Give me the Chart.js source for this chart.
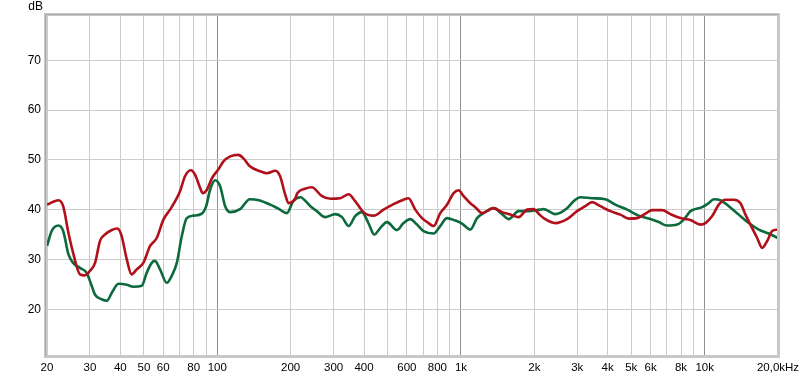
<!DOCTYPE html>
<html>
<head>
<meta charset="utf-8">
<script src="https://cdn.jsdelivr.net/npm/chart.js"></script>
<style>
  html, body { margin: 0; padding: 0; background: #fff; }
  #wrap { width: 800px; height: 378px; }
</style>
</head>
<body>
<div id="wrap"><canvas id="fr" width="800" height="378"></canvas></div>
<script>
// ── Data (Hz / dB) ────────────────────────────────────────
const redFreq = [20, 22.3, 23.3, 24.5, 25.6, 27.3, 28.6, 30, 31.5, 33, 34.6, 36.9, 38.9, 40.5, 42.5, 44.5,
  46.7, 49.7, 53, 56.4, 60.1, 64, 68.2, 70.3, 73.7, 77.8, 81.1, 84.5, 87.2, 90.6, 95, 101, 106, 113, 122,
  128, 136, 150, 160, 173, 181, 190, 196, 209, 213, 229, 244, 269, 291, 319, 346, 368, 398, 438, 481, 529,
  581, 609, 649, 692, 736, 772, 822, 876, 933, 978, 1025, 1092, 1145, 1220, 1361, 1474, 1594, 1724, 1867,
  1987, 2102, 2184, 2440, 2725, 2995, 3238, 3452, 3733, 4103, 4511, 4877, 5282, 5713, 6086, 6692, 7236,
  7955, 8745, 9612, 10078, 10738, 11430, 12176, 13168, 14030, 14708, 15668, 16428, 17224, 18056, 18932, 20000];
const redDb = [41.0, 41.9, 40.7, 35.3, 31.3, 27.0, 26.8, 27.7, 29.3, 33.7, 35.0, 35.9, 36.2, 34.7, 30.0, 27.0,
  28.0, 29.3, 32.7, 34.3, 38.0, 40.0, 42.3, 43.7, 46.7, 47.9, 47.0, 44.7, 43.3, 44.0, 46.3, 48.1, 49.7, 50.7, 51.0,
  50.3, 48.7, 47.7, 47.3, 47.8, 46.7, 43.0, 41.3, 42.3, 43.3, 44.2, 44.5, 42.7, 42.2, 42.3, 43.1, 41.7, 39.5, 38.8, 40.0, 41.1,
  42.0, 42.3, 40.0, 38.3, 37.3, 36.7, 39.3, 41.0, 43.3, 43.9, 42.7, 41.3, 40.5, 39.3, 40.3, 39.5, 39.0, 38.5, 40.0,
  40.1, 39.0, 38.3, 37.3, 38.1, 39.7, 40.7, 41.5, 40.7, 39.7, 39.0, 38.2, 38.3, 39.2, 39.9, 39.9, 39.1,
  38.3, 37.9, 37.0, 37.3, 38.7, 41.0, 42.0, 42.0, 41.3, 39.0, 36.3, 34.3, 32.3, 33.7, 35.7, 36.0];

const greenFreq = [20, 20.9, 22.3, 23.3, 24.5, 25.6, 27.3, 29.1, 30.5, 31.5, 33.5, 35.2, 36.9, 39.3, 42.5, 45.2,
  49, 51.3, 53.8, 55.5, 58.2, 62, 65, 68.2, 71.5, 74.9, 79.8, 86.4, 90, 93.4, 97.9, 102.7, 107.7, 113, 124,
  136, 148, 165, 178, 193, 205, 219, 241, 256, 277, 305, 325, 346, 368, 392, 417, 441, 466, 497, 546, 581,
  619, 660, 702, 772, 822, 876, 948, 1010, 1092, 1164, 1238, 1361, 1474, 1569, 1724, 1895, 2102, 2184, 2440,
  2725, 2900, 3090, 3452, 3914, 4302, 4806, 5364, 5990, 6481, 7015, 7712, 8208, 8745, 9768, 10396, 10900,
  11614, 12562, 13804, 15176, 16680, 18334, 20000];
const greenDb = [32.7, 35.7, 36.8, 35.7, 31.0, 29.3, 28.3, 27.3, 24.7, 22.9, 22.0, 21.7, 23.3, 25.1, 24.9, 24.5,
  24.7, 27.3, 29.3, 29.7, 28.0, 25.3, 26.7, 29.3, 34.7, 38.3, 38.8, 39.2, 40.7, 44.0, 45.9, 44.7, 40.7, 39.5, 40.1,
  42.1, 41.9, 41.0, 40.2, 39.3, 41.7, 42.5, 40.7, 39.7, 38.5, 39.1, 38.5, 36.7, 38.7, 39.5, 37.3, 35.0, 36.3, 37.5, 35.9, 37.3,
  38.1, 37.0, 35.7, 35.2, 36.7, 38.3, 37.8, 37.2, 36.0, 38.3, 39.3, 40.3, 39.1, 38.1, 39.7, 39.7, 40.0, 40.1, 39.1,
  40.3, 41.7, 42.5, 42.3, 42.1, 41.0, 40.0, 38.8, 38.1, 37.5, 36.8, 37.0, 38.0, 39.7, 40.5, 41.3, 42.1,
  41.9, 40.7, 39.0, 37.3, 36.0, 35.2, 34.3];

// grid positions on the frequency axis, and which of them get a label
const xTicks = [20, 30, 40, 50, 60, 70, 80, 90, 100, 200, 300, 400, 500, 600, 700, 800, 900,
  1000, 2000, 3000, 4000, 5000, 6000, 7000, 8000, 9000, 10000, 20000];
const xLabels = { 20: '20', 30: '30', 40: '40', 50: '50', 60: '60', 80: '80', 100: '100',
  200: '200', 300: '300', 400: '400', 600: '600', 800: '800', 1000: '1k',
  2000: '2k', 3000: '3k', 4000: '4k', 5000: '5k', 6000: '6k', 8000: '8k', 10000: '10k', 20000: '20,0kHz' };
const yTicks = [20, 30, 40, 50, 60, 70];

const toPoints = (fs, vs) => fs.map((f, i) => ({ x: f, y: vs[i] }));
const FAMILY = "'Liberation Sans', Arial, sans-serif";

// ── Bevelled grey frame + "dB" unit label ────────────────
const framePlugin = {
    id: 'frame',
    afterDraw(chart) {
        const { ctx, chartArea: a } = chart;
        ctx.save();
        ctx.fillStyle = '#c8c8c8';
        ctx.fillRect(a.left - 3, a.top - 2, 3, a.bottom - a.top + 5);   // left
        ctx.fillRect(a.left - 3, a.top - 2, a.right - a.left + 5, 3);   // top
        ctx.fillRect(a.right - 1, a.top - 2, 3, a.bottom - a.top + 5);  // right
        ctx.fillRect(a.left - 3, a.bottom, a.right - a.left + 5, 3);    // bottom
        ctx.fillStyle = '#aaaaaa';
        ctx.fillRect(a.left - 2, a.top - 1, 1, a.bottom - a.top + 2);
        ctx.fillRect(a.left - 2, a.top - 1, a.right - a.left + 2, 1);
        ctx.fillStyle = '#000';
        ctx.font = '12px ' + FAMILY;
        ctx.textAlign = 'right';
        ctx.textBaseline = 'alphabetic';
        ctx.fillText('dB', a.left - 4, 10);
        ctx.restore();
    }
};

new Chart(document.getElementById('fr'), {
    type: 'line',
    data: {
        datasets: [
            {
                data: toPoints(redFreq, redDb),
                borderColor: '#b0101a',
                borderWidth: 2.6,
                pointRadius: 0,
                cubicInterpolationMode: 'monotone',
                fill: false
            },
            {
                data: toPoints(greenFreq, greenDb),
                borderColor: '#0c6a3c',
                borderWidth: 2.6,
                pointRadius: 0,
                cubicInterpolationMode: 'monotone',
                fill: false
            }
        ]
    },
    options: {
        responsive: false,
        animation: false,
        layout: { padding: { top: 15, right: 22, left: 0, bottom: 0 } },
        plugins: { legend: { display: false }, tooltip: { enabled: false } },
        scales: {
            x: {
                type: 'logarithmic',
                min: 20,
                max: 20000,
                afterBuildTicks: s => { s.ticks = xTicks.map(v => ({ value: v })); },
                afterFit: s => { s.height = 23; s.paddingLeft = 0; s.paddingRight = 0; },
                border: { display: false },
                grid: {
                    drawTicks: false,
                    lineWidth: 1,
                    color: c => [100, 1000, 10000].includes(c.tick && c.tick.value) ? '#8f8f8f' : '#cccccc'
                },
                ticks: {
                    autoSkip: false,
                    maxRotation: 0,
                    padding: 6,
                    color: '#000',
                    font: { family: FAMILY, size: 11.5 },
                    callback: v => xLabels[v] || ''
                }
            },
            y: {
                min: 10.8,
                max: 79.1,
                afterBuildTicks: s => { s.ticks = yTicks.map(v => ({ value: v })); },
                afterFit: s => { s.width = 47; s.paddingTop = 0; s.paddingBottom = 0; },
                border: { display: false },
                grid: { drawTicks: false, color: '#cccccc', lineWidth: 1 },
                ticks: { padding: 6, color: '#000', font: { family: FAMILY, size: 12 } }
            }
        }
    },
    plugins: [framePlugin]
});
</script>
</body>
</html>
